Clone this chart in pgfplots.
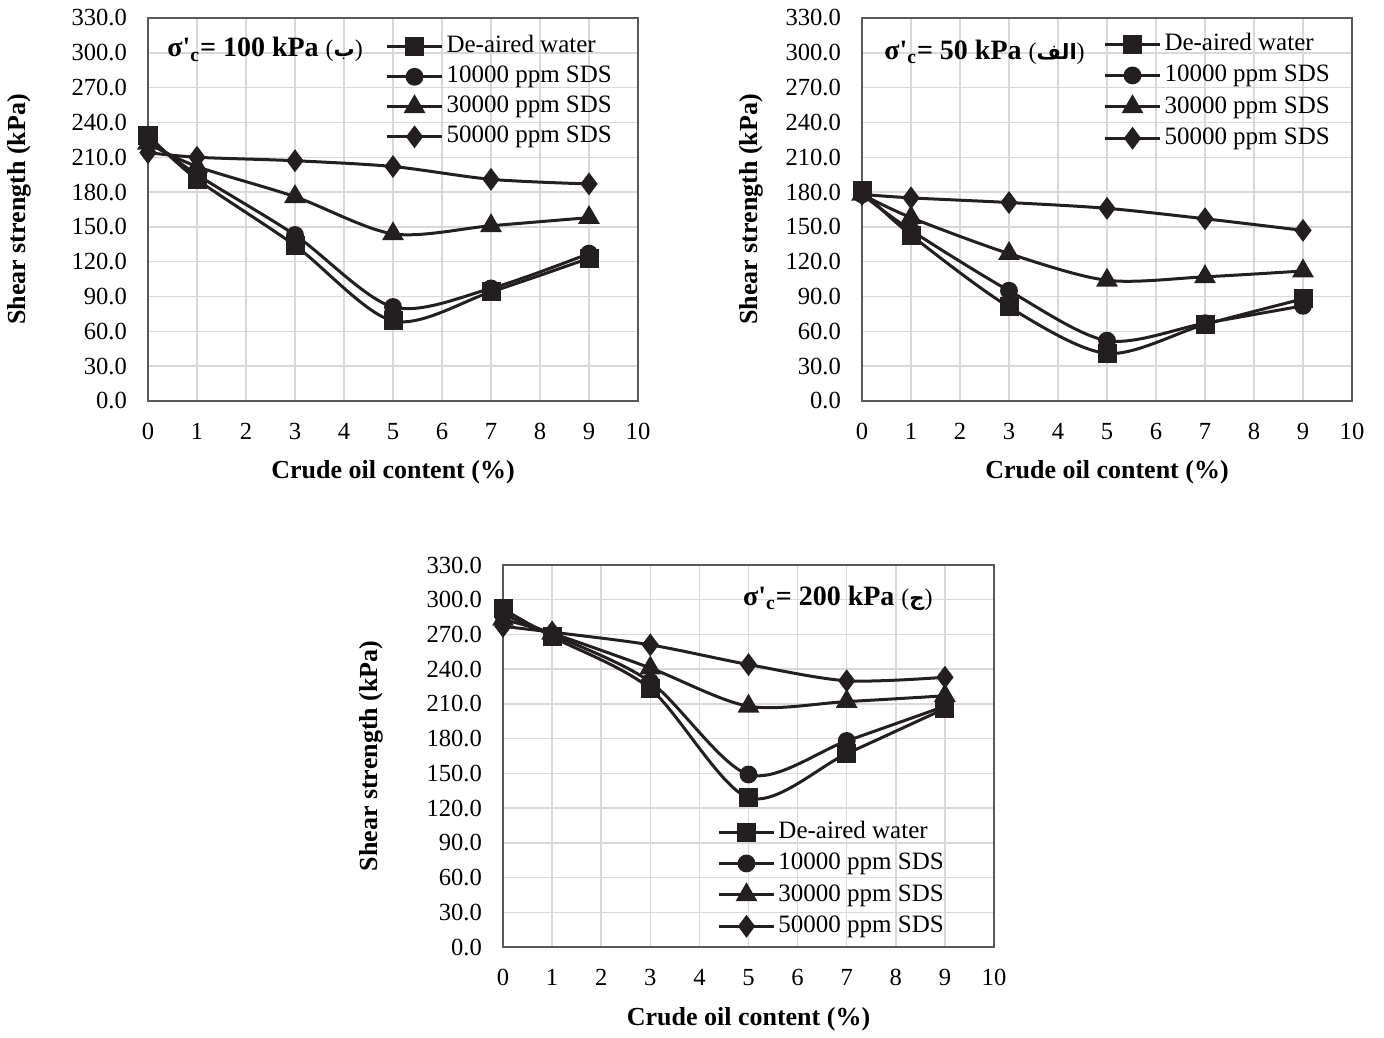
\documentclass[border=0pt]{standalone}
\usepackage{fontspec}
\setmainfont{Liberation Serif}
\newfontfamily\arabicfont[Script=Arabic]{DejaVu Sans}
\TeXXeTstate=1
\usepackage{pgfplots}
\pgfplotsset{compat=1.18}
\definecolor{ln}{HTML}{231F20}
\definecolor{gr}{HTML}{D9D9D9}
\definecolor{fr}{HTML}{595959}
\newcommand{\ar}[1]{{\mdseries\fontsize{12}{14}\selectfont(}{\arabicfont\fontsize{10.5}{12}\selectfont\beginR #1\endR}{\mdseries\fontsize{12}{14}\selectfont)}}
\pgfplotsset{
  panel/.style={
    scale only axis, width=245pt, height=191.5pt,
    xmin=0, xmax=10, ymin=0, ymax=330,
    xtick={0,...,10}, ytick={0,30,...,330},
    grid=major, major grid style={gr, line width=0.75pt},
    axis line style={fr, line width=1.1pt},
    major tick length=0pt,
    clip=false,
    tick label style={font=\fontsize{12.3}{14}\selectfont},
    xticklabel style={yshift=-7.5pt},
    yticklabel style={xshift=-7pt},
    /pgf/number format/assume math mode=true,
    yticklabel={\pgfmathprintnumber[fixed,fixed zerofill,precision=1,assume math mode=true]{\tick}},
    xlabel={Crude oil content (\%)},
    ylabel={Shear strength (kPa)},
    label style={font=\bfseries\fontsize{13}{15}\selectfont},
    xlabel style={at={(rel axis cs:0.5,-0.185)}, anchor=center},
    legend cell align=left,
    legend style={draw=none, fill=none, inner sep=0pt, row sep=0pt,
      font=\fontsize{12.5}{14}\selectfont,
      nodes={inner sep=1.5pt, text height=9.5pt, text depth=3.2pt}},
    legend image code/.code={\draw[mark repeat=2,mark phase=2] plot coordinates {(0pt,0pt) (13.75pt,0pt) (27.5pt,0pt)};},
    every axis plot/.append style={ln, line width=1.5pt, smooth},
  },
  sq/.style={mark=square*, mark size=4pt, mark options={solid, fill=ln}},
  ci/.style={mark=*, mark size=3.7pt, mark options={solid, fill=ln}},
  tr/.style={mark=triangle*, mark size=4.8pt, mark options={solid, fill=ln}},
  di/.style={mark=diamond*, mark size=4.5pt, mark options={solid, fill=ln}},
}
\begin{document}
\begin{tikzpicture}
\path[use as bounding box] (0,0) rectangle (692pt,518.5pt);
% Panel 1: 100 kPa
\begin{axis}[panel, at={(74pt,318pt)}, anchor=south west,
  ylabel style={at={(rel axis cs:-0.263,0.5)}, anchor=center, rotate=0},
  legend style={at={(rel axis cs:0.484,0.965)}, anchor=north west,
    nodes={text height=8.8pt}}]
\addplot[sq] coordinates {(0,229)(1,191)(3,134)(5,69)(7,94)(9,123)};
\addplot[ci] coordinates {(0,226)(1,195)(3,143)(5,81)(7,97)(9,127)};
\addplot[tr] coordinates {(0,222)(1,202)(3,176)(5,144)(7,151)(9,158)};
\addplot[di] coordinates {(0,214)(1,210)(3,207)(5,202)(7,191)(9,187)};
\legend{De-aired water, 10000 ppm SDS, 30000 ppm SDS, 50000 ppm SDS}
\node[font=\bfseries\fontsize{14}{16}\selectfont] at (rel axis cs:0.239,0.917)
  {σ\textquotesingle\textsubscript{c}= 100 kPa \ar{ب}};
\end{axis}
% Panel 2: 50 kPa
\begin{axis}[panel, at={(431pt,318pt)}, anchor=south west,
  ylabel style={at={(rel axis cs:-0.226,0.5)}, anchor=center, rotate=0},
  legend style={at={(rel axis cs:0.492,0.974)}, anchor=north west}]
\addplot[sq] coordinates {(0,181)(1,143)(3,81)(5,41)(7,66)(9,88)};
\addplot[ci] coordinates {(0,178)(1,147)(3,95)(5,52)(7,67)(9,82)};
\addplot[tr] coordinates {(0,178)(1,158)(3,127)(5,104)(7,107)(9,112)};
\addplot[di] coordinates {(0,178)(1,175)(3,171)(5,166)(7,157)(9,147)};
\legend{De-aired water, 10000 ppm SDS, 30000 ppm SDS, 50000 ppm SDS}
\node[font=\bfseries\fontsize{14}{16}\selectfont] at (rel axis cs:0.25,0.911)
  {σ\textquotesingle\textsubscript{c}= 50 kPa \ar{الف}};
\end{axis}
% Panel 3: 200 kPa
\begin{axis}[panel, at={(251.5pt,45pt)}, anchor=south west, width=245.5pt, height=191pt,
  ylabel style={at={(rel axis cs:-0.269,0.5)}, anchor=center, rotate=0},
  xlabel style={at={(rel axis cs:0.5,-0.19)}},
  legend style={at={(rel axis cs:0.436,0.343)}, anchor=north west}]
\addplot[sq] coordinates {(0,292)(1,268)(3,223)(5,129)(7,167)(9,206)};
\addplot[ci] coordinates {(0,287)(1,270)(3,229)(5,149)(7,178)(9,208)};
\addplot[tr] coordinates {(0,283)(1,271)(3,241)(5,208)(7,212)(9,217)};
\addplot[di] coordinates {(0,277)(1,272)(3,261)(5,244)(7,230)(9,233)};
\legend{De-aired water, 10000 ppm SDS, 30000 ppm SDS, 50000 ppm SDS}
\node[font=\bfseries\fontsize{14}{16}\selectfont] at (rel axis cs:0.682,0.914)
  {σ\textquotesingle\textsubscript{c}= 200 kPa \ar{ج}};
\end{axis}
\end{tikzpicture}
\end{document}
